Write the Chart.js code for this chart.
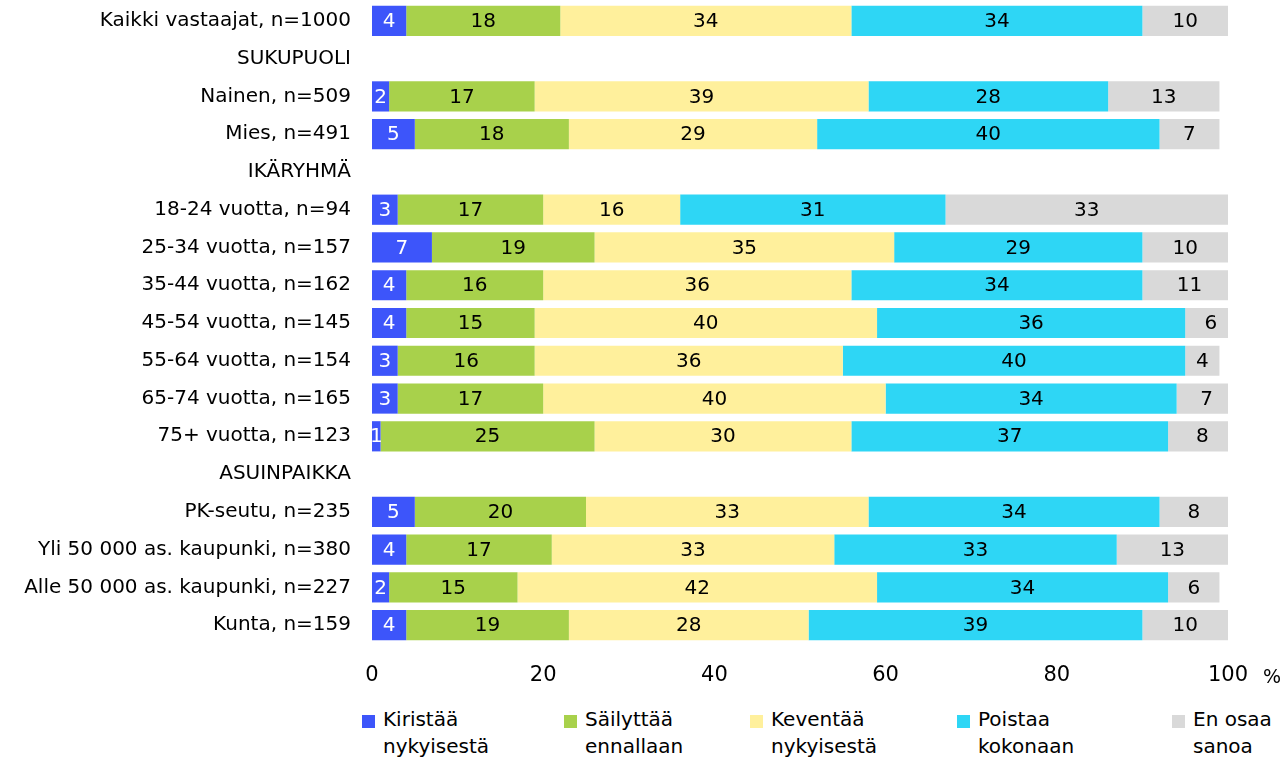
<!DOCTYPE html>
<html>
<head>
<meta charset="utf-8">
<script src="https://cdn.jsdelivr.net/npm/chart.js@4"></script>
<style>
  html, body { margin: 0; padding: 0; background: #fff; }
  #wrap { position: relative; width: 1288px; height: 761px; }
  #chart { position: absolute; left: 0; top: 0; }
  .pct { position: absolute; left: 1263px; top: 665px; font: 19px "DejaVu Sans", sans-serif; color: #000; }
  .leg { position: absolute; top: 706px; font: 20px "DejaVu Sans", sans-serif; line-height: 27px; color: #000; padding-left: 21px; }
  .leg i { position: absolute; left: 0; top: 9px; width: 13px; height: 13px; }
</style>
</head>
<body>
<div id="wrap">
  <canvas id="chart" width="1288" height="700"></canvas>
  <span class="pct">%</span>
  <div id="legend"></div>
</div>
<script>
// ===== Data =====
const categories = [
    'Kaikki vastaajat, n=1000',
    'SUKUPUOLI',
    'Nainen, n=509',
    'Mies, n=491',
    'IKÄRYHMÄ',
    '18-24 vuotta, n=94',
    '25-34 vuotta, n=157',
    '35-44 vuotta, n=162',
    '45-54 vuotta, n=145',
    '55-64 vuotta, n=154',
    '65-74 vuotta, n=165',
    '75+ vuotta, n=123',
    'ASUINPAIKKA',
    'PK-seutu, n=235',
    'Yli 50 000 as. kaupunki, n=380',
    'Alle 50 000 as. kaupunki, n=227',
    'Kunta, n=159'
];

const kiristaa   = [4, null, 2, 5, null, 3, 7, 4, 4, 3, 3, 1, null, 5, 4, 2, 4];
const sailyttaa  = [18, null, 17, 18, null, 17, 19, 16, 15, 16, 17, 25, null, 20, 17, 15, 19];
const keventaa   = [34, null, 39, 29, null, 16, 35, 36, 40, 36, 40, 30, null, 33, 33, 42, 28];
const poistaa    = [34, null, 28, 40, null, 31, 29, 34, 36, 40, 34, 37, null, 34, 33, 34, 39];
const enOsaa     = [10, null, 13, 7, null, 33, 10, 11, 6, 4, 7, 8, null, 8, 13, 6, 10];

const seriesNames = [
    ['Kiristää', 'nykyisestä'],
    ['Säilyttää', 'ennallaan'],
    ['Keventää', 'nykyisestä'],
    ['Poistaa', 'kokonaan'],
    ['En osaa', 'sanoa']
];

const xTicks = [0, 20, 40, 60, 80, 100];

// ===== Colors =====
const colors = ['#3D55FA', '#A8D14B', '#FFF09C', '#2ED6F5', '#D9D9D9'];
const labelColors = ['#FFFFFF', '#000000', '#000000', '#000000', '#000000'];

const seriesData = [kiristaa, sailyttaa, keventaa, poistaa, enOsaa];
const FONT = '"DejaVu Sans", sans-serif';

// ===== Value labels inside bars =====
const barLabels = {
    id: 'barLabels',
    afterDatasetsDraw(chart) {
        const ctx = chart.ctx;
        ctx.save();
        ctx.font = '20px ' + FONT;
        ctx.textAlign = 'center';
        ctx.textBaseline = 'middle';
        chart.data.datasets.forEach((ds, di) => {
            const meta = chart.getDatasetMeta(di);
            meta.data.forEach((bar, i) => {
                const v = ds.data[i];
                if (v == null) return;
                const { x, base, y } = bar.getProps(['x', 'base', 'y'], true);
                ctx.fillStyle = labelColors[di];
                ctx.fillText(String(v), (x + base) / 2, y + 1);
            });
        });
        ctx.restore();
    }
};

new Chart(document.getElementById('chart'), {
    type: 'bar',
    data: {
        labels: categories,
        datasets: seriesData.map((d, i) => ({
            label: seriesNames[i].join(' '),
            data: d,
            backgroundColor: colors[i],
            borderWidth: 0,
            barPercentage: 0.8,
            categoryPercentage: 1
        }))
    },
    options: {
        indexAxis: 'y',
        responsive: false,
        animation: false,
        layout: { padding: { top: 2, right: 60, bottom: 0, left: 0 } },
        plugins: {
            legend: { display: false },
            tooltip: { enabled: false }
        },
        scales: {
            x: {
                stacked: true,
                min: 0,
                max: 100,
                grid: { display: false },
                border: { display: false },
                afterBuildTicks: (s) => { s.ticks = xTicks.map(v => ({ value: v })); },
                afterFit: (s) => { s.height = 56; },
                ticks: { padding: 11, color: '#000', font: { family: FONT, size: 21 } }
            },
            y: {
                stacked: true,
                grid: { display: false },
                border: { display: false },
                afterFit: (s) => { s.width = 372; s.paddingTop = 0; s.paddingBottom = 0; },
                ticks: { padding: 13, color: '#000', font: { family: FONT, size: 20 } }
            }
        }
    },
    plugins: [barLabels]
});

// ===== HTML legend =====
const legendX = [362, 564, 750, 957, 1172];
const legendEl = document.getElementById('legend');
seriesNames.forEach((lines, i) => {
    const div = document.createElement('div');
    div.className = 'leg';
    div.style.left = legendX[i] + 'px';
    div.innerHTML = '<i style="background:' + colors[i] + '"></i>' + lines.join('<br>');
    legendEl.appendChild(div);
});
</script>
</body>
</html>
